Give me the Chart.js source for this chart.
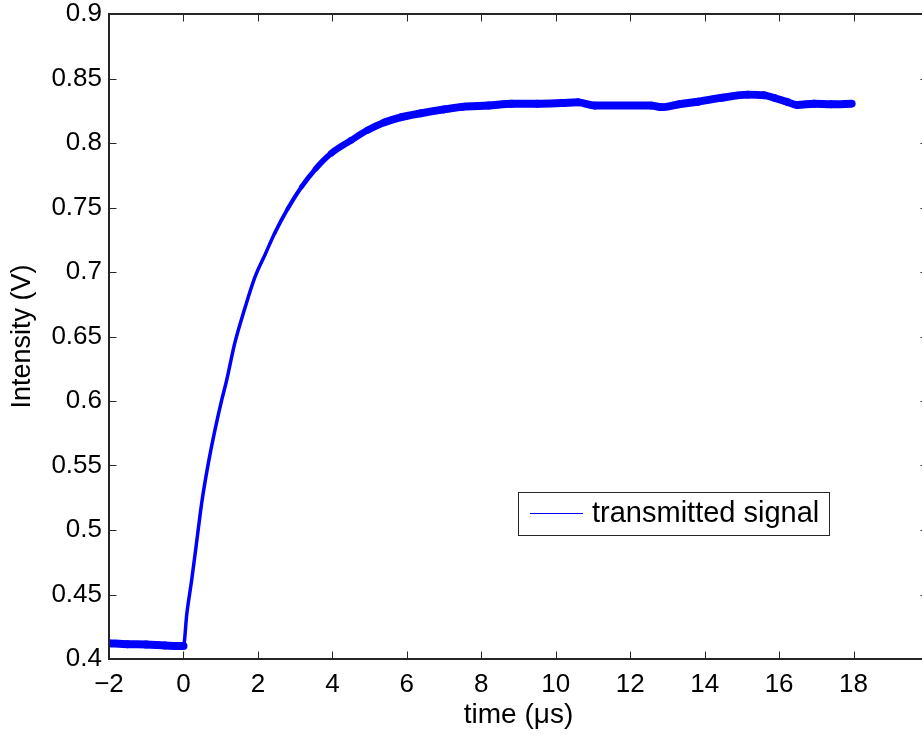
<!DOCTYPE html>
<html>
<head>
<meta charset="utf-8">
<script src="https://cdn.jsdelivr.net/npm/chart.js@4"></script>
<style>
  html, body { margin: 0; padding: 0; background: #fff; overflow: hidden; }
  canvas { display: block; }
</style>
</head>
<body>
<canvas id="chart" width="930" height="735"></canvas>
<script>
// values (time in microseconds, intensity in volts)
const timeUs = [
    -2, -1.5, -1, -0.5, 0,
    0.09, 0.22, 0.36, 0.49, 0.67, 0.85, 1.03, 1.16, 1.38, 1.65,
    1.92, 2.2, 2.45, 2.8, 3.17, 3.55, 3.97, 4.5, 4.95, 5.4,
    5.84, 6.37, 7.0, 7.49, 8.2, 8.82, 9.5, 10.16, 10.6, 11.05,
    11.5, 11.94, 12.57, 12.84, 13.3, 13.82, 14.44, 15.16, 15.6, 15.87,
    16.2, 16.49, 16.94, 17.4, 17.95
];
const intensityV = [
    0.4123, 0.4115, 0.4112, 0.4105, 0.410,
    0.435, 0.461, 0.492, 0.521, 0.552, 0.578, 0.601, 0.616, 0.645, 0.672,
    0.696, 0.714, 0.730, 0.749, 0.766, 0.780, 0.792, 0.802, 0.810, 0.816,
    0.820, 0.823, 0.826, 0.828, 0.829, 0.8305, 0.8305, 0.831, 0.8315, 0.829,
    0.829, 0.829, 0.829, 0.8278, 0.830, 0.832, 0.835, 0.8375, 0.837, 0.835,
    0.832, 0.8295, 0.8305, 0.830, 0.8305
];
const xTicks = [-2, 0, 2, 4, 6, 8, 10, 12, 14, 16, 18];
const yTicks = [0.4, 0.45, 0.5, 0.55, 0.6, 0.65, 0.7, 0.75, 0.8, 0.85, 0.9];
const seriesLabel = 'transmitted signal';

const axisColor = '#262626';
const traceColor = '#0000ff';
const fontFamily = '"Liberation Sans", Arial, Helvetica, sans-serif';
const noiseBand = 8; // vertical thickness of the noisy trace, px

// MATLAB-like box with inward ticks on all four sides, plus the legend
const matlabBox = {
    id: 'matlabBox',
    afterDatasetsDraw(chart) {
        const { ctx, chartArea: a, scales: { x, y } } = chart;
        const len = 7.5;
        ctx.save();
        ctx.strokeStyle = axisColor;
        ctx.lineWidth = 1;
        ctx.beginPath();
        x.ticks.forEach(t => {
            const px = Math.round(x.getPixelForValue(t.value)) + 0.5;
            ctx.moveTo(px, a.bottom); ctx.lineTo(px, a.bottom - len);
            ctx.moveTo(px, a.top); ctx.lineTo(px, a.top + len);
        });
        y.ticks.forEach(t => {
            const py = Math.round(y.getPixelForValue(t.value)) + 0.5;
            ctx.moveTo(a.left, py); ctx.lineTo(a.left + len, py);
            ctx.moveTo(a.right, py); ctx.lineTo(a.right - len, py);
        });
        ctx.stroke();
        ctx.lineWidth = 2;
        ctx.strokeRect(a.left, a.top, a.right - a.left, a.bottom - a.top);

        // legend
        const ds = chart.data.datasets[0];
        const bx = a.left + 409, by = a.top + 478, bw = 311, bh = 43;
        ctx.fillStyle = '#fff';
        ctx.fillRect(bx, by, bw, bh);
        ctx.lineWidth = 1;
        ctx.strokeStyle = axisColor;
        ctx.strokeRect(bx + 0.5, by + 0.5, bw, bh);
        ctx.beginPath();
        ctx.strokeStyle = traceColor;
        ctx.lineWidth = 1.2;
        ctx.moveTo(bx + 12, by + 21.5);
        ctx.lineTo(bx + 65, by + 21.5);
        ctx.stroke();
        ctx.fillStyle = '#000';
        ctx.font = '29px ' + fontFamily;
        ctx.textBaseline = 'middle';
        ctx.fillText(ds.label, bx + 74, by + 22);
        ctx.restore();
    }
};

const ctx = document.getElementById('chart');
new Chart(ctx, {
    type: 'line',
    data: {
        datasets: [{
            label: seriesLabel,
            data: timeUs.map((t, i) => ({ x: t, y: intensityV[i] })),
            borderColor: traceColor,
            borderWidth: noiseBand,
            borderCapStyle: 'round',
            borderJoinStyle: 'round',
            pointRadius: 0,
            cubicInterpolationMode: 'monotone',
            segment: {
                // a vertical noise band looks thinner where the trace is steep
                borderWidth: c => {
                    const dx = c.p1.x - c.p0.x, dy = c.p1.y - c.p0.y;
                    return Math.max(3.5, noiseBand * Math.abs(dx) / Math.hypot(dx, dy));
                }
            }
        }]
    },
    options: {
        responsive: false,
        animation: false,
        layout: { padding: { top: 14, right: 2, left: 0, bottom: 0 } },
        plugins: {
            legend: { display: false },
            tooltip: { enabled: false }
        },
        scales: {
            x: {
                type: 'linear',
                min: -2,
                max: 20,
                afterBuildTicks: s => { s.ticks = xTicks.map(v => ({ value: v })); },
                afterFit: s => { s.height = 76; s.paddingLeft = 0; s.paddingRight = 0; },
                grid: { display: false, drawTicks: false },
                border: { display: false },
                ticks: {
                    color: '#000',
                    padding: 10,
                    maxRotation: 0,
                    autoSkip: false,
                    font: { family: fontFamily, size: 26 },
                    callback: v => String(v).replace('-', '\u2212')
                },
                title: {
                    display: true,
                    text: 'time (\u03bcs)',
                    color: '#000',
                    font: { family: fontFamily, size: 28 },
                    padding: { top: 0, bottom: 3 }
                }
            },
            y: {
                min: 0.4,
                max: 0.9,
                afterBuildTicks: s => { s.ticks = yTicks.map(v => ({ value: v })); },
                afterFit: s => { s.width = 109; s.paddingTop = 0; s.paddingBottom = 0; },
                grid: { display: false, drawTicks: false },
                border: { display: false },
                ticks: {
                    color: '#000',
                    padding: 7,
                    autoSkip: false,
                    font: { family: fontFamily, size: 26 },
                    callback: v => String(Number(v.toFixed(2)))
                },
                title: {
                    display: true,
                    text: 'Intensity (V)',
                    color: '#000',
                    font: { family: fontFamily, size: 27 },
                    padding: { top: 6, bottom: 0 }
                }
            }
        }
    },
    plugins: [matlabBox]
});
</script>
</body>
</html>
